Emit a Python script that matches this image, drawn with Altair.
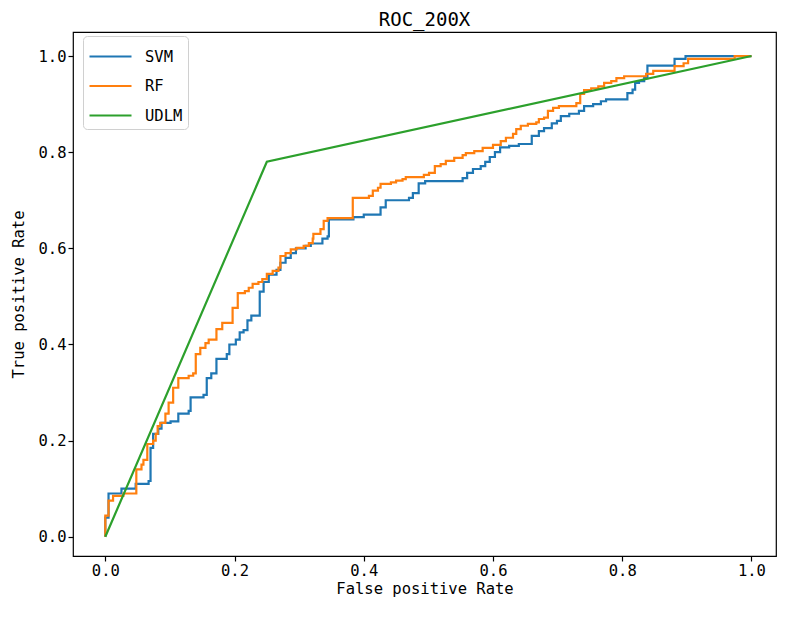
import altair as alt
import pandas as pd

# ROC curve jump points (fpr where the vertical step happens, tpr after it)
svm_fpr = [0.0, 0.0, 0.005, 0.025, 0.047, 0.067, 0.070, 0.074, 0.082, 0.087, 0.101, 0.113, 0.129, 0.132,
           0.152, 0.157, 0.164, 0.172, 0.188, 0.192, 0.202, 0.208, 0.214, 0.220, 0.226, 0.239, 0.245,
           0.253, 0.265, 0.271, 0.279, 0.287, 0.295, 0.310, 0.318, 0.336, 0.344, 0.346, 0.384, 0.400,
           0.426, 0.434, 0.470, 0.476, 0.485, 0.495, 0.553, 0.560, 0.569, 0.581, 0.588, 0.595, 0.603,
           0.611, 0.625, 0.640, 0.660, 0.671, 0.679, 0.691, 0.699, 0.705, 0.718, 0.733, 0.741, 0.755,
           0.767, 0.775, 0.808, 0.816, 0.820, 0.826, 0.834, 0.839, 0.881, 0.898, 1.0]
svm_tpr = [0.0, 0.04, 0.09, 0.10, 0.11, 0.116, 0.185, 0.214, 0.225, 0.237, 0.24, 0.256, 0.262, 0.29,
           0.295, 0.33, 0.34, 0.37, 0.38, 0.40, 0.41, 0.425, 0.43, 0.45, 0.46, 0.51, 0.53,
           0.545, 0.555, 0.57, 0.58, 0.59, 0.60, 0.605, 0.61, 0.62, 0.625, 0.66, 0.665, 0.67,
           0.685, 0.70, 0.705, 0.715, 0.735, 0.74, 0.746, 0.757, 0.765, 0.771, 0.78, 0.79, 0.80,
           0.81, 0.813, 0.817, 0.834, 0.844, 0.85, 0.86, 0.865, 0.875, 0.88, 0.886, 0.896, 0.90,
           0.906, 0.91, 0.923, 0.93, 0.944, 0.948, 0.954, 0.98, 0.994, 1.0, 1.0]

rf_fpr = [0.0, 0.0, 0.005, 0.012, 0.028, 0.048, 0.056, 0.059, 0.065, 0.074, 0.078, 0.081, 0.085, 0.093,
          0.098, 0.105, 0.113, 0.129, 0.136, 0.140, 0.147, 0.155, 0.160, 0.172, 0.181, 0.197, 0.205,
          0.216, 0.222, 0.228, 0.237, 0.243, 0.250, 0.259, 0.268, 0.271, 0.279, 0.287, 0.296, 0.307,
          0.315, 0.321, 0.322, 0.333, 0.338, 0.344, 0.383, 0.408, 0.414, 0.422, 0.426, 0.442, 0.450,
          0.460, 0.465, 0.493, 0.501, 0.510, 0.519, 0.527, 0.540, 0.553, 0.558, 0.571, 0.584, 0.600,
          0.612, 0.620, 0.631, 0.636, 0.643, 0.654, 0.667, 0.671, 0.679, 0.685, 0.693, 0.702, 0.729,
          0.735, 0.741, 0.752, 0.763, 0.772, 0.783, 0.791, 0.803, 0.837, 0.848, 0.881, 0.895, 0.902,
          0.974, 1.0]
rf_tpr = [0.0, 0.044, 0.075, 0.085, 0.09, 0.14, 0.15, 0.16, 0.193, 0.20, 0.214, 0.23, 0.237, 0.256,
          0.279, 0.31, 0.33, 0.335, 0.34, 0.38, 0.393, 0.403, 0.41, 0.432, 0.445, 0.476, 0.507,
          0.511, 0.518, 0.526, 0.53, 0.536, 0.547, 0.553, 0.56, 0.584, 0.59, 0.598, 0.601, 0.605,
          0.611, 0.62, 0.63, 0.64, 0.657, 0.663, 0.705, 0.709, 0.72, 0.726, 0.734, 0.737, 0.741,
          0.744, 0.748, 0.753, 0.757, 0.771, 0.775, 0.782, 0.788, 0.794, 0.798, 0.802, 0.809, 0.815,
          0.823, 0.83, 0.838, 0.848, 0.855, 0.859, 0.862, 0.869, 0.872, 0.886, 0.892, 0.896, 0.902,
          0.921, 0.929, 0.933, 0.937, 0.944, 0.948, 0.954, 0.958, 0.963, 0.969, 0.979, 0.985, 0.994,
          1.0, 1.0]

udlm_fpr = [0.0, 0.25, 1.0]
udlm_tpr = [0.0, 0.78, 1.0]

models = ["SVM", "RF", "UDLM"]
colors = ["#1f77b4", "#ff7f0e", "#2ca02c"]
ticks = [0.0, 0.2, 0.4, 0.6, 0.8, 1.0]

step_rows = []
for name, fx, ty in [("SVM", svm_fpr, svm_tpr), ("RF", rf_fpr, rf_tpr)]:
    for i, (a, b) in enumerate(zip(fx, ty)):
        step_rows.append({"model": name, "fpr": a, "tpr": b, "idx": i})
step_df = pd.DataFrame(step_rows)
udlm_df = pd.DataFrame({"model": "UDLM", "fpr": udlm_fpr, "tpr": udlm_tpr,
                        "idx": list(range(len(udlm_fpr)))})

FONT = "DejaVu Sans Mono"

xscale = alt.Scale(domain=[-0.05, 1.038], nice=False, zero=False)
yscale = alt.Scale(domain=[-0.04, 1.05], nice=False, zero=False)
color = alt.Color("model:N",
                  scale=alt.Scale(domain=models, range=colors),
                  legend=alt.Legend(title=None, orient="none", legendX=10, legendY=4,
                                    symbolType="M-1,0L2,0", symbolSize=784, symbolStrokeWidth=2.2,
                                    labelFont=FONT, labelFontSize=15.5, labelColor="black",
                                    rowPadding=5.5, padding=5, strokeColor="#d0d0d0",
                                    cornerRadius=4, fillColor="white", labelOffset=26))

xenc = alt.X("fpr:Q", scale=xscale,
             axis=alt.Axis(values=ticks, format=".1f", title="False positive Rate"))
yenc = alt.Y("tpr:Q", scale=yscale,
             axis=alt.Axis(values=ticks, format=".1f", title="True positive Rate"))

steps = alt.Chart(step_df).mark_line(interpolate="step-after", strokeWidth=2.2).encode(
    x=xenc, y=yenc, color=color, order="idx:Q")
udlm = alt.Chart(udlm_df).mark_line(strokeWidth=2.2).encode(
    x=xenc, y=yenc, color=color, order="idx:Q")

chart = alt.layer(steps, udlm).properties(
    width=703, height=524,
    title=alt.TitleParams("ROC_200X", font=FONT, fontSize=19, fontWeight="normal",
                          color="black", offset=2),
    autosize=alt.AutoSizeParams(type="none"),
    padding={"left": 65, "top": 24, "right": 2, "bottom": 46},
).configure_view(stroke="black", strokeWidth=1.2).configure_axis(
    grid=False, domain=False, ticks=True, tickColor="black", tickSize=5, tickWidth=1.2,
    labelFont=FONT, labelFontSize=15.5, labelColor="black", labelPadding=2,
    titleFont=FONT, titleFontSize=15.5, titleFontWeight="normal", titleColor="black",
).configure_axisX(titlePadding=3).configure_axisY(titlePadding=12)

chart.save("out.html", embed_options={"renderer": "svg", "actions": False})
